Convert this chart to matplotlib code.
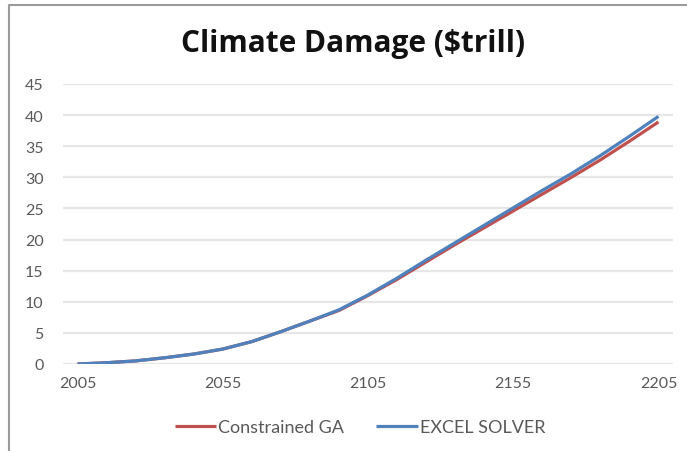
import matplotlib.pyplot as plt
from matplotlib.lines import Line2D

years = list(range(2005, 2206, 10))
ga_damage = [0.0, 0.2, 0.5, 1.0, 1.6, 2.4, 3.6, 5.2, 6.9, 8.6, 11.0, 13.6,
             16.4, 19.2, 21.9, 24.6, 27.3, 30.0, 32.8, 35.8, 38.9]
solver_damage = [0.0, 0.2, 0.5, 1.0, 1.6, 2.4, 3.6, 5.2, 6.9, 8.7, 11.1, 13.8,
                 16.7, 19.5, 22.3, 25.1, 27.9, 30.6, 33.5, 36.6, 39.8]
x_ticks = [2005, 2055, 2105, 2155, 2205]
y_ticks = list(range(0, 46, 5))

W, H = 687, 452
fig = plt.figure(figsize=(W / 100, H / 100), dpi=100)
ax = fig.add_axes([63 / W, 1 - 365 / H, (673 - 63) / W, (365 - 85) / H])

ax.plot(years, ga_damage, color="#C0504D", lw=2.3, label="Constrained GA", solid_capstyle="butt")
ax.plot(years, solver_damage, color="#4F81BD", lw=2.3, label="EXCEL SOLVER", solid_capstyle="butt")

ax.set_xlim(2000, 2210)
ax.set_ylim(0, 45)
ax.set_xticks(x_ticks)
ax.set_yticks(y_ticks)
ax.grid(axis="y", color="#e6e6e6", lw=1.6)
ax.set_axisbelow(True)
for s in ax.spines.values():
    s.set_visible(False)
ax.axhline(0, color="#d9d9d9", lw=1.8, zorder=0.5)
ax.tick_params(length=0, labelsize=11.5, labelcolor="#595959", pad=9)
ax.tick_params(axis="y", pad=14)
for lab in ax.get_xticklabels() + ax.get_yticklabels():
    lab.set_family("Lato")

fig.text(353.5 / W, 1 - 52 / H, "Climate Damage ($trill)", ha="center", va="baseline",
         fontsize=21.5, fontweight="bold", family="Open Sans", color="#111111")

fig.legend(loc="center", bbox_to_anchor=(360 / W, 1 - 428 / H), ncol=2, frameon=False,
           prop={"family": "Lato", "size": 13}, labelcolor="#595959",
           handlelength=2.3, handletextpad=0.1, columnspacing=1.8)

# chart border (left and top edges visible)
fig.add_artist(Line2D([9 / W, 9 / W, 1], [0, 1 - 6 / H, 1 - 6 / H], transform=fig.transFigure,
                      color="#9a9a9a", lw=1.5))

fig.savefig("out.png", dpi=100)
